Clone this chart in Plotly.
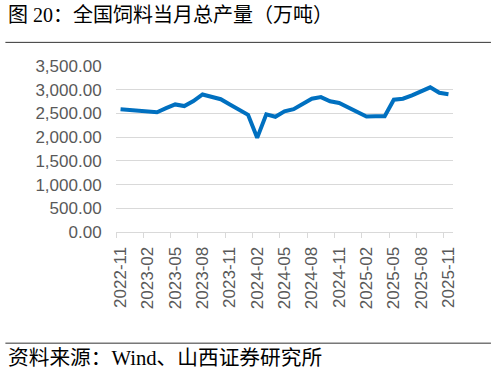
import plotly.graph_objects as go

months = ["2022-11", "2022-12", "2023-01", "2023-02", "2023-03", "2023-04", "2023-05", "2023-06",
          "2023-07", "2023-08", "2023-09", "2023-10", "2023-11", "2023-12", "2024-01", "2024-02",
          "2024-03", "2024-04", "2024-05", "2024-06", "2024-07", "2024-08", "2024-09", "2024-10",
          "2024-11", "2024-12", "2025-01", "2025-02", "2025-03", "2025-04", "2025-05", "2025-06",
          "2025-07", "2025-08", "2025-09", "2025-10", "2025-11"]
output = [2589, 2575, 2558, 2540, 2525, 2610, 2690, 2655, 2760, 2900, 2850, 2800, 2690, 2580,
          2470, 1985, 2480, 2430, 2545, 2590, 2700, 2810, 2845, 2755, 2720, 2630, 2520, 2435,
          2440, 2440, 2790, 2810, 2880, 2965, 3050, 2935, 2905]
tick_labels = months[::3]
y_ticks = [0, 500, 1000, 1500, 2000, 2500, 3000, 3500]
title_text = "图 20：全国饲料当月总产量（万吨）"
source_text = "资料来源：Wind、山西证券研究所"

W, H = 496, 374
L, R, T, B = 115.7, 453.0, 66.0, 232.5
pw, ph = R - L, B - T


def px(x):
    return (x - L) / pw


def py(y):
    return (B - y) / ph


fig = go.Figure()
fig.add_trace(go.Scatter(x=months, y=output, mode="lines",
                         line=dict(color="#0070C0", width=4), showlegend=False,
                         hoverinfo="skip"))
# invisible trace to activate the overlay axis carrying boundary tick marks
fig.add_trace(go.Scatter(x=[0], y=[0], xaxis="x2", mode="markers",
                         marker=dict(opacity=0), showlegend=False, hoverinfo="skip"))

tick_font = dict(family="Liberation Sans, Arial, sans-serif", size=17, color="#595959")

fig.update_layout(
    width=W, height=H, autosize=False,
    margin=dict(l=L, r=W - R, t=T, b=H - B, pad=0),
    paper_bgcolor="white", plot_bgcolor="white",
    xaxis=dict(type="category", range=[-0.5, len(months) - 0.5],
               tickmode="array", tickvals=tick_labels, ticktext=tick_labels,
               tickangle=-90, tickfont=tick_font,
               ticks="outside", ticklen=7, tickcolor="rgba(0,0,0,0)",
               showgrid=False, showline=True, linecolor="#d9d9d9", linewidth=1,
               zeroline=False),
    xaxis2=dict(overlaying="x", type="linear", range=[-0.5, len(months) - 0.5],
                tickmode="array", tickvals=[i - 0.5 for i in range(0, len(months), 3)],
                ticks="outside", ticklen=5, tickcolor="#d9d9d9", tickwidth=1,
                showticklabels=False, showgrid=False, showline=False, zeroline=False,
                side="bottom"),
    yaxis=dict(range=[0, 3500], tickmode="array", tickvals=y_ticks,
               ticktext=[f"{v:,.2f}" for v in y_ticks], tickfont=tick_font,
               ticks="outside", ticklen=10, tickcolor="rgba(0,0,0,0)",
               showgrid=True, gridcolor="#d9d9d9", gridwidth=1,
               showline=False, zeroline=False),
    shapes=[
        dict(type="line", xref="paper", yref="paper", x0=px(5), x1=px(491),
             y0=py(42.3), y1=py(42.3), line=dict(color="#333333", width=1)),
        dict(type="line", xref="paper", yref="paper", x0=px(5), x1=px(491),
             y0=py(344), y1=py(344), line=dict(color="#333333", width=1)),
    ],
    annotations=[
        dict(text=title_text, xref="paper", yref="paper", x=px(6), y=py(15),
             xanchor="left", yanchor="middle", showarrow=False,
             font=dict(family="Liberation Serif, Noto Sans CJK SC, serif", size=20, color="#000000")),
        dict(text=source_text, xref="paper", yref="paper", x=px(6), y=py(358.5),
             xanchor="left", yanchor="middle", showarrow=False,
             font=dict(family="Liberation Serif, Noto Sans CJK SC, serif", size=20.7, color="#000000")),
    ],
)

fig.write_html("out.html", config={"displayModeBar": False},
               post_script="document.body.style.margin='0';document.body.style.overflow='hidden';")
